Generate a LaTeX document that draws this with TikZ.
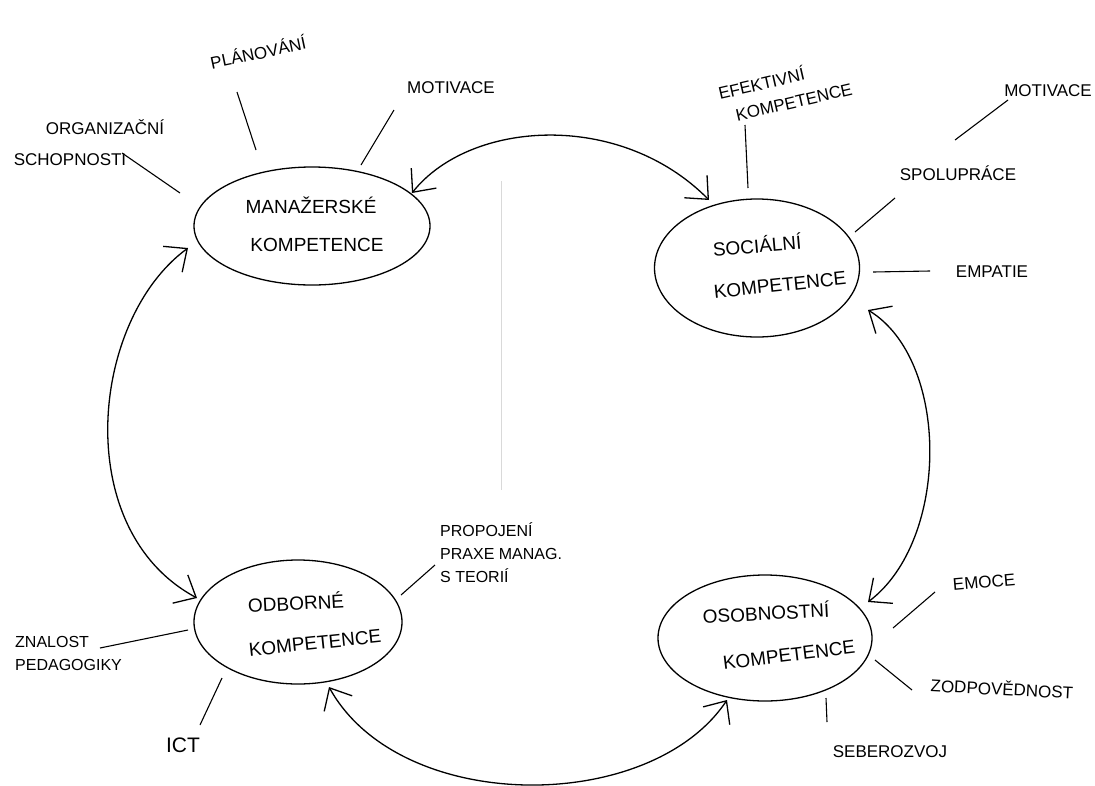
\documentclass[tikz,border=0pt]{standalone}
\usepackage{fontspec}
\setmainfont{Liberation Sans}
\usetikzlibrary{shapes.geometric,arrows.meta,calc}
\begin{document}
\begin{tikzpicture}[x=1pt,y=-1pt,
  comp/.style={draw, ellipse, line width=1.3pt, inner sep=0pt},
  big/.style={font=\fontsize{19}{22}\selectfont, inner sep=0pt},
  lbl/.style={font=\fontsize{17}{20}\selectfont, inner sep=0pt},
  sml/.style={font=\fontsize{16}{23}\selectfont, inner sep=0pt, align=left},
  leader/.style={line width=1.1pt},
  biarrow/.style={{Straight Barb[length=18pt,width=32pt]}-{Straight Barb[length=18pt,width=32pt]}, line width=1.3pt}]
\useasboundingbox (0,0) rectangle (1095,785);
\fill[white] (0,0) rectangle (1095,785);
% faint fold line
\draw[gray!30, line width=0.6pt] (501,181) -- (501,490);

% main ellipses
\node[comp, minimum width=236pt, minimum height=118pt] (man) at (312,226) {};
\node[comp, minimum width=205pt, minimum height=138pt] (soc) at (757,268) {};
\node[comp, minimum width=208pt, minimum height=124pt] (odb) at (298,622) {};
\node[comp, minimum width=214pt, minimum height=126pt] (oso) at (765,638) {};

% main texts
\node[big] (man1) at (311,205) {MANAŽERSKÉ};
\node[big] (man2) at (317,245) {KOMPETENCE};
\node[big, rotate=5] (soc1) at (757,245) {SOCIÁLNÍ};
\node[big, rotate=6] (soc2) at (780,285) {KOMPETENCE};
\node[big, rotate=3] (odb1) at (296,602) {ODBORNÉ};
\node[big, rotate=6] (odb2) at (315,643) {KOMPETENCE};
\node[big, rotate=3] (oso1) at (766,612) {OSOBNOSTNÍ};
\node[big, rotate=7] (oso2) at (789,655) {KOMPETENCE};

% side labels
\node[lbl, rotate=12] (plan) at (258,52) {PLÁNOVÁNÍ};
\node[lbl] (motL) at (451,88) {MOTIVACE};
\node[lbl] (org) at (105,127) {ORGANIZAČNÍ};
\node[lbl] (schop) at (70,160) {SCHOPNOSTI};
\node[lbl, rotate=13, align=left, font=\fontsize{17}{25}\selectfont] (efk) at (785,90) {EFEKTIVNÍ\\\hspace{12pt}KOMPETENCE};
\node[lbl] (motR) at (1048,91) {MOTIVACE};
\node[lbl] (spol) at (958,173) {SPOLUPRÁCE};
\node[lbl] (emp) at (992,272) {EMPATIE};
\node[sml, anchor=west] (prop) at (440,553) {PROPOJENÍ\\PRAXE MANAG.\\S TEORIÍ};
\node[sml, anchor=west] (zn) at (15,653) {ZNALOST\\PEDAGOGIKY};
\node[font=\fontsize{21}{24}\selectfont, inner sep=0pt] (ict) at (183,745) {ICT};
\node[lbl, rotate=5] (emo) at (984,582) {EMOCE};
\node[lbl, rotate=-3] (zod) at (1002,688) {ZODPOVĚDNOST};
\node[lbl] (seb) at (890,752) {SEBEROZVOJ};

% leaders
\draw[leader] ($(schop)+(52,-7)$) -- ($(man)+(-132,-33)$);
\draw[leader] ($(plan)+(-21,40)$) -- ($(man)+(-56,-76)$);
\draw[leader] ($(motL)+(-57,22)$) -- ($(man)+(49,-61)$);
\draw[leader] ($(efk)+(-40,35)$) -- ($(soc)+(-9,-80)$);
\draw[leader] ($(motR)+(-40,9)$) -- ($(spol)+(-3,-33)$);
\draw[leader] ($(spol)+(-63,25)$) -- ($(soc)+(98,-36)$);
\draw[leader] ($(emp)+(-62,-1)$) -- ($(soc)+(116,4)$);
\draw[leader] ($(prop.west)+(-5,12)$) -- ($(odb)+(103,-27)$);
\draw[leader] ($(zn.west)+(85,-5)$) -- ($(odb)+(-110,8)$);
\draw[leader] ($(ict)+(17,-20)$) -- ($(odb)+(-76,56)$);
\draw[leader] ($(emo)+(-49,10)$) -- ($(oso)+(128,-10)$);
\draw[leader] ($(zod)+(-90,2)$) -- ($(oso)+(110,22)$);
\draw[leader] ($(oso)+(61,60)$) -- ($(seb)+(-63,-30)$);

% double arrows
\draw[biarrow] ($(man)+(100,-33)$) .. controls (470,120) and (620,110) .. ($(soc)+(-48,-68)$);
\draw[biarrow] ($(man)+(-124,22)$) .. controls (90,320) and (70,530) .. ($(odb)+(-101,-24)$);
\draw[biarrow] ($(soc)+(111,42)$) .. controls (950,360) and (950,540) .. ($(oso)+(103,-36)$);
\draw[biarrow] ($(odb)+(31,65)$) .. controls (400,815) and (650,815) .. ($(oso)+(-38,62)$);
\end{tikzpicture}
\end{document}
